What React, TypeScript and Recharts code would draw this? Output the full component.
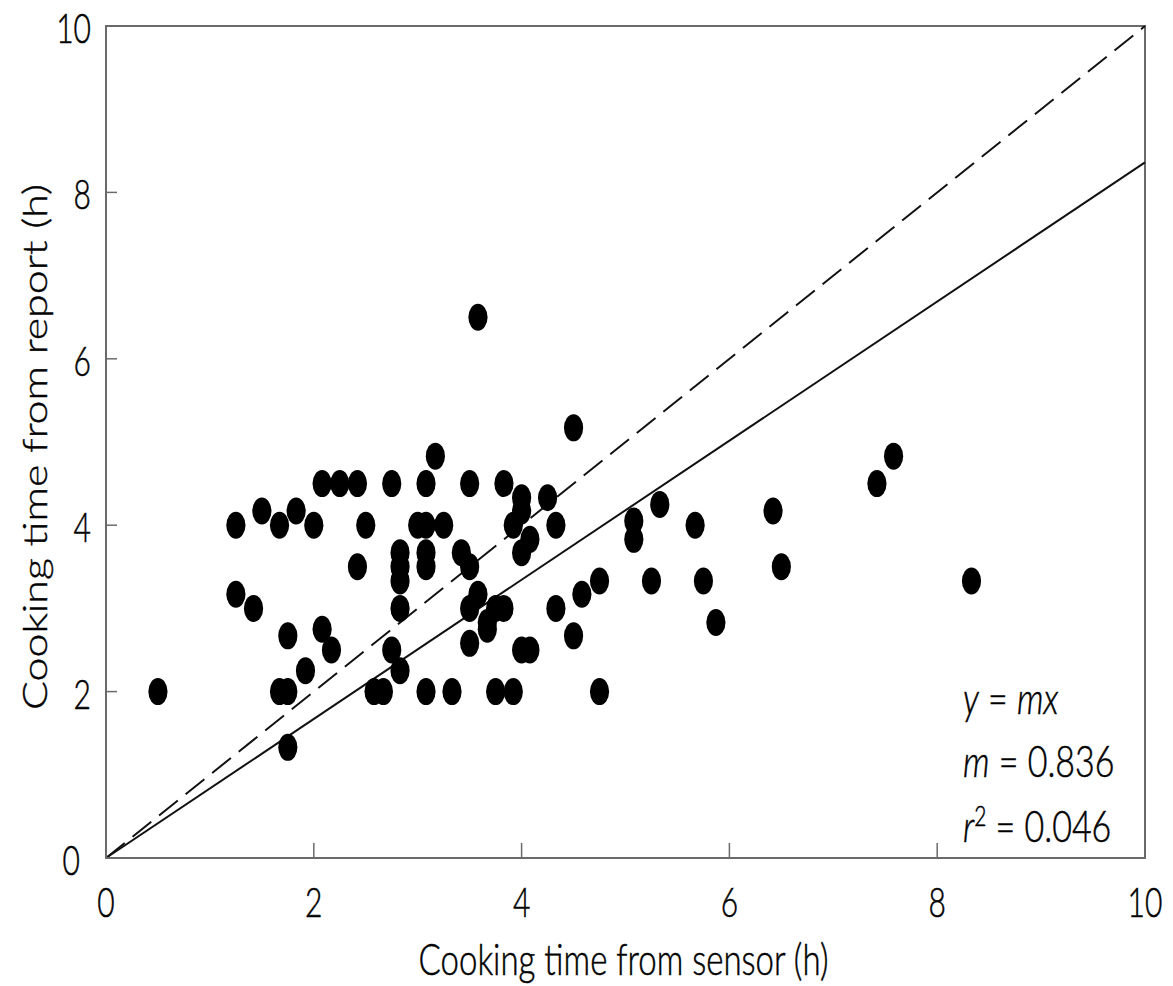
import React from 'react';
import {
  ScatterChart,
  Scatter,
  XAxis,
  YAxis,
  ReferenceLine,
  ReferenceArea,
  Customized,
} from 'recharts';

// ---- data (hours) ----
const sensorHours = [
  0.5, 1.25, 1.25, 1.42, 1.5, 1.67, 1.67, 1.75, 1.75, 1.75,
  1.83, 1.92, 2.0, 2.08, 2.08, 2.17, 2.25, 2.42, 2.42, 2.5,
  2.58, 2.67, 2.75, 2.75, 2.83, 2.83, 2.83, 2.83, 2.83, 3.0,
  3.08, 3.08, 3.08, 3.08, 3.08, 3.17, 3.25, 3.33, 3.42, 3.5,
  3.5, 3.5, 3.5, 3.58, 3.58, 3.67, 3.67, 3.75, 3.75, 3.83,
  3.83, 3.92, 3.92, 4.0, 4.0, 4.0, 4.0, 4.08, 4.08, 4.25,
  4.33, 4.33, 4.5, 4.5, 4.58, 4.75, 4.75, 5.08, 5.08, 5.25,
  5.33, 5.67, 5.75, 5.87, 6.42, 6.5, 7.42, 7.58, 8.33,
];
const reportHours = [
  2.0, 4.0, 3.17, 3.0, 4.17, 4.0, 2.0, 2.0, 2.67, 1.33,
  4.17, 2.25, 4.0, 4.5, 2.75, 2.5, 4.5, 4.5, 3.5, 4.0,
  2.0, 2.0, 2.5, 4.5, 3.67, 3.5, 3.33, 3.0, 2.25, 4.0,
  4.0, 4.5, 3.67, 3.5, 2.0, 4.83, 4.0, 2.0, 3.67, 4.5,
  3.5, 3.0, 2.58, 3.17, 6.5, 2.83, 2.75, 3.0, 2.0, 4.5,
  3.0, 2.0, 4.0, 4.33, 4.17, 3.67, 2.5, 3.83, 2.5, 4.33,
  4.0, 3.0, 5.17, 2.67, 3.17, 3.33, 2.0, 4.05, 3.83, 3.33,
  4.25, 4.0, 3.33, 2.83, 4.17, 3.5, 4.5, 4.83, 3.33,
];
const xTicks = [0, 2, 4, 6, 8, 10];
const yTicks = [0, 2, 4, 6, 8, 10];
const axisMax = 10;
const fitSlope = 0.836;
const rSquared = 0.046;
const xTitle = 'Cooking time from sensor (h)';
const yTitle = 'Cooking time from report (h)';

const points = sensorHours.map((x, i) => ({ x, y: reportHours[i] }));
const identityLine = [
  { x: 0, y: 0 },
  { x: axisMax, y: axisMax },
];
const fitLine = [
  { x: 0, y: 0 },
  { x: axisMax, y: axisMax * fitSlope },
];

const FONT = 'Lato, "Open Sans", "DejaVu Sans", sans-serif';
const WEIGHT = 300;
const STRETCH = 1.4;
const TEXT = '#000';
const AXIS = '#6a6a6a';

const XTick = (props: any) => {
  const { x, y, payload } = props;
  return (
    <g transform={`translate(${x},${y}) scale(1,${STRETCH})`}>
      <text textAnchor="middle" fontSize={30} fontWeight={WEIGHT} fontFamily={FONT} fill={TEXT} stroke={TEXT} strokeWidth={0.4}>
        {payload.value}
      </text>
    </g>
  );
};

const YTick = (props: any) => {
  const { x, y, payload } = props;
  const dx = payload.value === 0 ? -11 : 0;
  return (
    <g transform={`translate(${x + dx},${y + 1.5}) scale(1,${STRETCH})`}>
      <text textAnchor="end" dy={11} fontSize={30} fontWeight={WEIGHT} fontFamily={FONT} fill={TEXT} stroke={TEXT} strokeWidth={0.4}>
        {payload.value}
      </text>
    </g>
  );
};

const XTitle = (props: any) => {
  const vb = props.viewBox || {};
  const cx = vb.x + vb.width / 2 - 2;
  const by = vb.y + 117;
  return (
    <g transform={`translate(${cx},${by}) scale(1,1.33)`}>
      <text textAnchor="middle" fontSize={33} fontWeight={WEIGHT} fontFamily={FONT} fill={TEXT} stroke={TEXT} strokeWidth={0.4}>
        {xTitle}
      </text>
    </g>
  );
};

const YTitle = (props: any) => {
  const vb = props.viewBox || {};
  const cy = vb.y + vb.height / 2 + 5;
  return (
    <g transform={`translate(47,${cy}) scale(1,1.3) rotate(-90)`}>
      <text textAnchor="middle" fontSize={33} fontWeight={WEIGHT} fontFamily={FONT} fill={TEXT} stroke={TEXT} strokeWidth={0.4}>
        {yTitle}
      </text>
    </g>
  );
};

const Annotation = () => {
  const lines = [
    { key: 'a', y: 714, content: (<><tspan fontStyle="italic">y</tspan> = <tspan fontStyle="italic">mx</tspan></>) },
    { key: 'b', y: 777, content: (<><tspan fontStyle="italic">m</tspan> = {fitSlope.toFixed(3)}</>) },
    {
      key: 'c',
      y: 842,
      content: (
        <>
          <tspan fontStyle="italic">r</tspan>
          <tspan fontSize={21} dy={-12}>2</tspan>
          <tspan dy={12}> = {rSquared.toFixed(3)}</tspan>
        </>
      ),
    },
  ];
  return (
    <g>
      {lines.map((l) => (
        <g key={l.key} transform={`translate(963,${l.y}) scale(1,1.3)`}>
          <text fontSize={34} fontWeight={WEIGHT} fontFamily={FONT} fill={TEXT} stroke={TEXT} strokeWidth={0.4}>
            {l.content}
          </text>
        </g>
      ))}
    </g>
  );
};

const Dot = (props: any) => {
  const { cx, cy } = props;
  if (cx == null || cy == null) return null;
  return <ellipse cx={cx} cy={cy} rx={9.6} ry={13.5} fill="#000" />;
};

export default function App() {
  return (
    <div style={{ position: 'absolute', left: 0, top: 0, background: '#fff' }}>
      <ScatterChart
        width={1173}
        height={986}
        margin={{ top: 26, right: 28, bottom: 68, left: 46 }}
      >
        <XAxis
          type="number"
          dataKey="x"
          domain={[0, axisMax]}
          ticks={xTicks}
          interval={0}
          allowDataOverflow
          height={60}
          tickSize={-15}
          tickMargin={74}
          axisLine={{ stroke: AXIS, strokeWidth: 2 }}
          tickLine={{ stroke: AXIS, strokeWidth: 1.5 }}
          tick={<XTick />}
          label={{ content: <XTitle /> }}
        />
        <YAxis
          type="number"
          dataKey="y"
          domain={[0, axisMax]}
          ticks={yTicks}
          interval={0}
          allowDataOverflow
          width={60}
          tickSize={-11}
          tickMargin={26}
          axisLine={{ stroke: AXIS, strokeWidth: 2 }}
          tickLine={{ stroke: AXIS, strokeWidth: 1.5 }}
          tick={<YTick />}
          label={{ content: <YTitle /> }}
        />
        <ReferenceArea
          x1={0}
          x2={axisMax}
          y1={0}
          y2={axisMax}
          fill="none"
          stroke={AXIS}
          strokeWidth={2}
          ifOverflow="visible"
        />
        <ReferenceLine
          segment={identityLine}
          stroke="#111"
          strokeWidth={2}
          strokeDasharray="24 10"
          ifOverflow="visible"
        />
        <ReferenceLine
          segment={fitLine}
          stroke="#111"
          strokeWidth={2}
          ifOverflow="visible"
        />
        <Scatter data={points} shape={<Dot />} isAnimationActive={false} />
        <Customized component={Annotation} />
      </ScatterChart>
    </div>
  );
}
